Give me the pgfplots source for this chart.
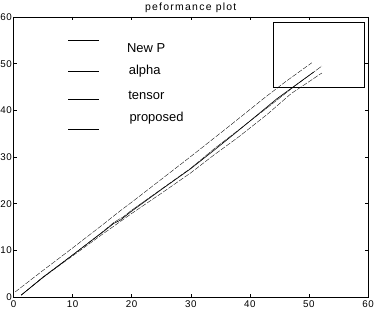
\documentclass[border=0pt]{standalone}
\usepackage{pgfplots}
\pgfplotsset{compat=1.18}
\usepackage{fontspec}
\setmainfont{Liberation Sans}
\newfontfamily\titlefont[LetterSpace=12]{Liberation Sans}
\newfontfamily\tickfont[LetterSpace=6]{Liberation Sans}
\begin{document}
\begin{tikzpicture}
\begin{axis}[
  scale only axis,
  width=354.5bp, height=280bp,
  xmin=0, xmax=60, ymin=0, ymax=60,
  xtick={0,10,...,60}, ytick={0,10,...,60},
  tick align=inside,
  major tick length=3bp,
  tick style={black, line width=0.5pt},
  axis line style={black, line width=0.6pt},
  /pgf/number format/assume math mode=true,
  ticklabel style={font=\tickfont\fontsize{9.8}{11}\selectfont},
  xticklabel style={inner sep=0pt, yshift=-3bp},
  yticklabel style={inner sep=0pt, xshift=-1.5bp},
  title={peformance plot},
  every axis title/.style={font=\titlefont\fontsize{10.5}{12}\selectfont, inner sep=0pt, at={(0.5,1)}, anchor=base, yshift=6.5bp},
  clip=false,
]
% top line
\addplot[black, line width=0.35pt, dash pattern=on 5bp off 1.5bp] coordinates {
(0.3,1.1) (5,5.7) (10,10.5) (15,15.4) (18,18.4) (20,20.3) (25,25.2) (30,30.1)
(36.7,36.8) (42.3,42.5) (46,46.1) (50.5,50.2)};
% middle thin
\addplot[black, line width=0.35pt, dash pattern=on 6bp off 1bp] coordinates {
(1.3,0.4) (5,4.3) (10,9.0) (15,13.9) (17,16.0) (18.6,17.2) (20,18.6) (25,23.1)
(30,27.6) (34,31.8) (38.1,35.8) (43,40.6) (47.4,45.0) (52.2,49.5)};
% dark solid
\addplot[black, line width=0.6pt] coordinates {
(1.3,0.4) (5,4.2) (10,9.0) (15,13.8) (17,15.8) (18,16.4) (20,18.4) (25,23.0)
(30,27.5) (34,31.5) (38,35.6) (44.6,42.5) (50.8,48.2)};
% lower line
\addplot[black, line width=0.35pt, dash pattern=on 5bp off 1.5bp] coordinates {
(1.3,0.4) (5,4.2) (10,8.8) (15,13.4) (20,17.9) (25,22.2) (30,26.6) (34,30.5)
(38.1,34.3) (43,39.2) (47,43.6) (52.2,48.0)};
% empty legend box
\draw[black, line width=0.6pt] (axis cs:43.9,44.9) rectangle (axis cs:59.3,58.8);
% legend samples and labels
\draw[black, line width=0.5pt] (axis cs:9.3,55.0) -- (axis cs:14.5,55.0);
\draw[black, line width=0.5pt] (axis cs:9.3,48.4) -- (axis cs:14.5,48.4);
\draw[black, line width=0.5pt] (axis cs:9.3,42.4) -- (axis cs:14.5,42.4);
\draw[black, line width=0.5pt] (axis cs:9.3,36.0) -- (axis cs:14.5,36.0);
\node[anchor=west, inner sep=0pt, font=\fontsize{13}{14}\selectfont] at (axis cs:19.2,53.3) {New P};
\node[anchor=west, inner sep=0pt, font=\fontsize{13}{14}\selectfont] at (axis cs:19.5,48.5) {alpha};
\node[anchor=west, inner sep=0pt, font=\fontsize{13}{14}\selectfont] at (axis cs:19.4,43.3) {tensor};
\node[anchor=west, inner sep=0pt, font=\fontsize{13}{14}\selectfont] at (axis cs:19.6,38.3) {proposed};
\coordinate (ll) at (rel axis cs:0,0);
\coordinate (ur) at (rel axis cs:1,1);
\end{axis}
\pgfresetboundingbox
\path[use as bounding box] ([xshift=-13.5bp,yshift=-15bp]ll) rectangle ([xshift=6bp,yshift=17bp]ur);
\end{tikzpicture}
\end{document}
